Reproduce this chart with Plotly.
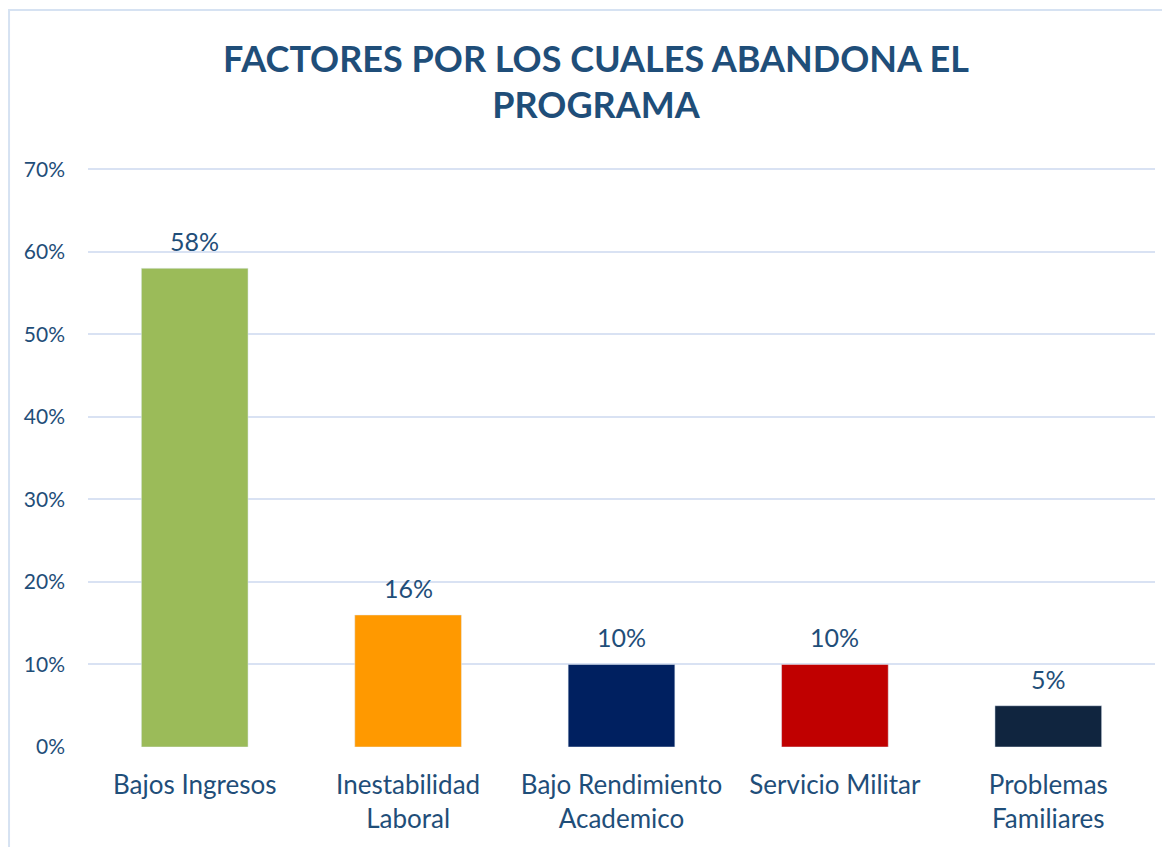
import plotly.graph_objects as go

categories = ["Bajos Ingresos", "Inestabilidad<br>Laboral", "Bajo Rendimiento<br>Academico",
              "Servicio Militar", "Problemas<br>Familiares"]
values = [0.58, 0.16, 0.10, 0.10, 0.05]
labels = ["58%", "16%", "10%", "10%", "5%"]
colors = ["#9BBB59", "#FF9900", "#002060", "#C00000", "#10253F"]
y_ticks = [0, 0.1, 0.2, 0.3, 0.4, 0.5, 0.6, 0.7]
y_tick_labels = ["0%", "10%", "20%", "30%", "40%", "50%", "60%", "70%"]

FONT = "Lato"
TXT = "#1F4E79"

fig = go.Figure(go.Bar(
    x=categories, y=values, marker_color=colors, width=0.5,
))

for c, v, t in zip(categories, values, labels):
    fig.add_annotation(x=c, y=v, text=t, showarrow=False, yanchor="bottom",
                       yshift=10, font=dict(family=FONT, size=25, color=TXT))

fig.update_layout(
    width=1170, height=847,
    margin=dict(l=80, r=23, t=160, b=108),
    paper_bgcolor="white", plot_bgcolor="white",
    showlegend=False,
    title=dict(
        text="FACTORES POR LOS CUALES ABANDONA EL<br>PROGRAMA",
        font=dict(family=FONT, size=36, color=TXT, weight="bold"),
        x=0.5026, xref="container", xanchor="center",
        y=0.925, yref="container", yanchor="top",
    ),
    font=dict(family=FONT, color=TXT),
)
fig.update_yaxes(
    range=[0, 0.7015], tickvals=y_ticks, ticktext=y_tick_labels,
    showgrid=True, gridcolor="#D9E2F3", gridwidth=2,
    zeroline=False, showline=False,
    tickfont=dict(family=FONT, size=21, color=TXT),
    ticklabelstandoff=22,
)
fig.update_xaxes(
    showgrid=False, showline=False, zeroline=False,
    tickfont=dict(family=FONT, size=26, color=TXT),
    ticklabelstandoff=20,
)
fig.add_shape(type="rect", xref="paper", yref="paper",
              x0=-0.074, x1=1.2, y0=-0.3, y1=1.2729,
              line=dict(color="#D6E2F2", width=2), fillcolor="rgba(0,0,0,0)",
              layer="below")

fig.write_html("out.html")
